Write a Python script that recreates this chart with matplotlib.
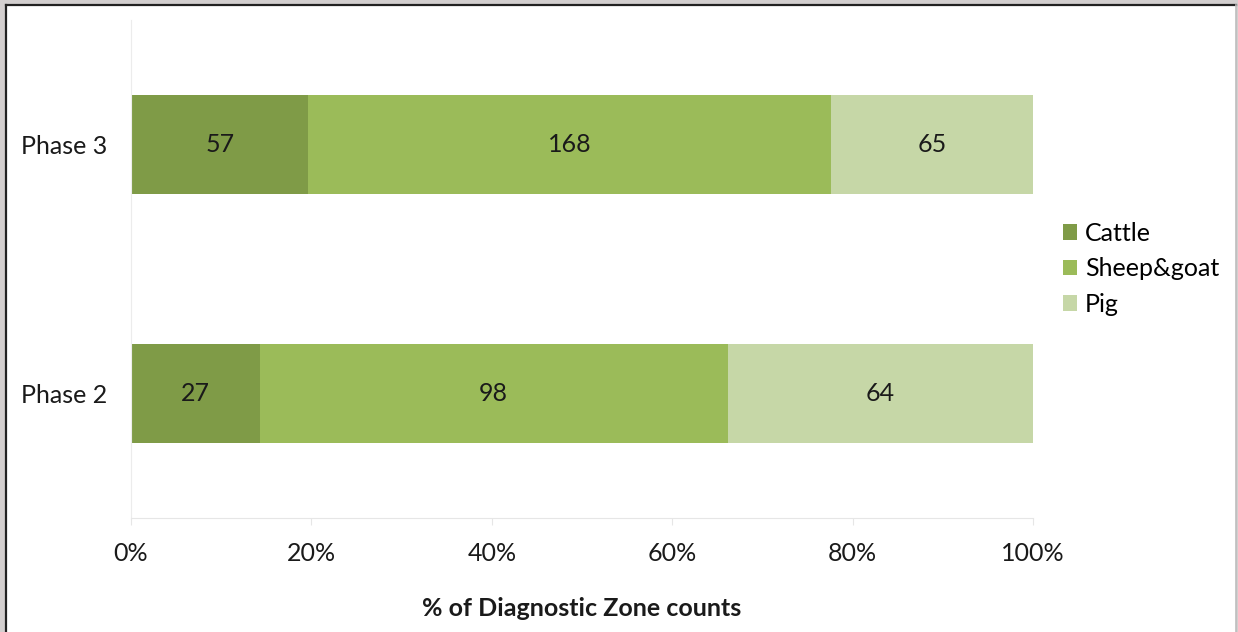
import numpy as np
import matplotlib
matplotlib.use('Agg')
import matplotlib.pyplot as plt
from matplotlib.patches import Rectangle
from matplotlib.lines import Line2D

# data
phases = ['Phase 2', 'Phase 3']
species = ['Cattle', 'Sheep&goat', 'Pig']
counts = {
    'Cattle': [27, 57],
    'Sheep&goat': [98, 168],
    'Pig': [64, 65],
}
colors = ['#7f9b47', '#9bbb59', '#c6d7a7']
xticks = [0, 20, 40, 60, 80, 100]

plt.rcParams['font.family'] = ['Lato', 'DejaVu Sans']
FS = 18

W, H = 1238, 632
fig = plt.figure(figsize=(W / 100, H / 100), dpi=100)
fig.patch.set_facecolor('#d3cfcf')

# white panel with a dark frame on top/left (drawn behind the axes)
fig.patches.append(Rectangle((6 / W, 0), (1236 - 6) / W, (H - 5) / H,
                             transform=fig.transFigure, facecolor='white',
                             edgecolor='none', zorder=-10))
fig.lines.append(Line2D([6 / W, 1236 / W], [(H - 5) / H, (H - 5) / H],
                        transform=fig.transFigure, color='#222222', lw=1.6, zorder=-9))
fig.lines.append(Line2D([6 / W, 6 / W], [0, (H - 5) / H],
                        transform=fig.transFigure, color='#222222', lw=1.6, zorder=-9))
fig.lines.append(Line2D([1236 / W, 1236 / W], [0, (H - 5) / H],
                        transform=fig.transFigure, color='#bdbdbd', lw=1.2, zorder=-9))

ax = fig.add_axes([131 / W, (H - 518) / H, (1033 - 131) / W, (518 - 20) / H])
ax.set_facecolor('none')

totals = np.sum([counts[s] for s in species], axis=0)
y = np.arange(len(phases))
left = np.zeros(len(phases))
for s, c in zip(species, colors):
    vals = np.array(counts[s], dtype=float)
    pct = vals / totals * 100
    ax.barh(y, pct, left=left, height=0.395, color=c, label=s)
    for yi, l, p, v in zip(y, left, pct, vals):
        ax.text(l + p / 2, yi, str(int(v)), ha='center', va='center',
                fontsize=FS, color='#1a1a1a')
    left += pct

ax.set_xlim(0, 100)
ax.set_ylim(-0.5, 1.5)
ax.set_yticks(y)
ax.set_yticklabels(phases, fontsize=FS, color='#1a1a1a')
ax.set_xticks(xticks)
ax.set_xticklabels([f'{t}%' for t in xticks], fontsize=FS, color='#1a1a1a')
ax.tick_params(axis='y', length=0, pad=17)
ax.tick_params(axis='x', length=5, color='#e6e6e6', pad=12)

for sp in ['top', 'right']:
    ax.spines[sp].set_visible(False)
ax.spines['left'].set_color('#ececec')
ax.spines['bottom'].set_color('#e6e6e6')

ax.set_xlabel('% of Diagnostic Zone counts', fontsize=FS, fontweight='bold',
              color='#1a1a1a', labelpad=23)

ax.legend(loc='center left', bbox_to_anchor=(1.008, 0.5), frameon=False,
          fontsize=FS, handlelength=0.58, handleheight=0.58,
          handletextpad=0.3, labelspacing=0.5)

fig.savefig('out.png', dpi=100, facecolor=fig.get_facecolor())
